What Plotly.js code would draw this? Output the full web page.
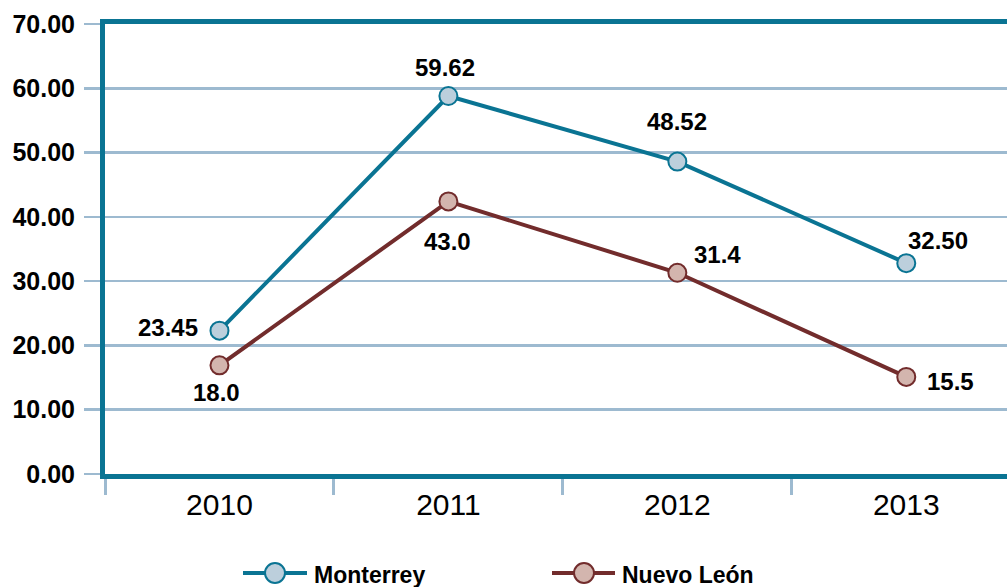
<!DOCTYPE html>
<html>
<head>
<meta charset="utf-8">
<script src="https://cdn.plot.ly/plotly-3.0.1.min.js"></script>
<style>html,body{margin:0;padding:0;background:#fff;}#chart{width:1007px;height:587px;}</style>
</head>
<body>
<div id="chart"></div>
<script>
var years = ['2010', '2011', '2012', '2013'];
var monterrey = [22.3, 58.8, 48.6, 32.8];
var nuevoLeon = [16.9, 42.4, 31.3, 15.1];
var monterreyLabels = ['23.45', '59.62', '48.52', '32.50'];
var nuevoLeonLabels = ['18.0', '43.0', '31.4', '15.5'];
var yTickVals = [0, 10, 20, 30, 40, 50, 60, 70];
var yTickText = ['0.00', '10.00', '20.00', '30.00', '40.00', '50.00', '60.00', '70.00'];
var seriesNames = ['Monterrey', 'Nuevo León'];

var teal = '#0a7493', tealFill = '#bccfdc';
var maroon = '#722c2c', maroonFill = '#d3b5ae';
var grid = '#9dbad0';
var FONT = 'Liberation Sans, Arial, sans-serif';

var W = 1007, H = 587, L = 105, R = 0, T = 24, B = 113;
function px2x(p) { return (p - L) / (W - L - R); }
function px2y(p) { return (H - B - p) / (H - B - T); }

function trace(name, y, line, fill) {
  return {
    type: 'scatter', mode: 'lines+markers', name: name,
    x: years, y: y, showlegend: false, cliponaxis: false,
    line: {color: line, width: 4},
    marker: {size: 18, color: fill, line: {color: line, width: 2}}
  };
}

var mOff = [[-51, 3], [-3, 29], [0, 40], [32, 23]];
var nOff = [[-3, -27], [-1, -40], [40, 18], [44, -5]];
var annotations = [];
function addLabels(vals, labels, offs) {
  for (var i = 0; i < vals.length; i++) {
    annotations.push({
      x: i, y: vals[i], xref: 'x', yref: 'y', text: labels[i],
      showarrow: false, xshift: offs[i][0], yshift: offs[i][1],
      xanchor: 'center', yanchor: 'middle',
      font: {family: FONT, size: 24, color: '#000', weight: 'bold'}
    });
  }
}
addLabels(monterrey, monterreyLabels, mOff);
addLabels(nuevoLeon, nuevoLeonLabels, nOff);

// custom legend
var legendItems = [
  {name: seriesNames[0], x0: 243, x1: 307, cx: 275, tx: 312, line: teal, fill: tealFill},
  {name: seriesNames[1], x0: 552, x1: 615, cx: 584, tx: 620, line: maroon, fill: maroonFill}
];
var legY = 573;
var shapes = [];
legendItems.forEach(function (it) {
  shapes.push({type: 'line', xref: 'paper', yref: 'paper', x0: px2x(it.x0), x1: px2x(it.x1),
    y0: px2y(legY), y1: px2y(legY), line: {color: it.line, width: 4}});
  shapes.push({type: 'circle', xref: 'paper', yref: 'paper', xsizemode: 'pixel', ysizemode: 'pixel',
    xanchor: px2x(it.cx), yanchor: px2y(legY), x0: -10, x1: 10, y0: -10, y1: 10,
    fillcolor: it.fill, line: {color: it.line, width: 2}});
  annotations.push({xref: 'paper', yref: 'paper', x: px2x(it.tx), y: px2y(legY + 2),
    xanchor: 'left', yanchor: 'middle', showarrow: false, text: it.name,
    font: {family: FONT, size: 23, color: '#000', weight: 'bold'}});
});

var layout = {
  width: W, height: H,
  margin: {l: L, r: R, t: T, b: B, pad: 0},
  paper_bgcolor: '#fff', plot_bgcolor: '#fff',
  showlegend: false,
  xaxis: {
    type: 'category', range: [-0.5, 3.44], fixedrange: true,
    showgrid: false, zeroline: false,
    showline: true, linecolor: teal, linewidth: 5, mirror: true,
    ticks: 'outside', tickson: 'boundaries', ticklen: 16, tickwidth: 3, tickcolor: grid,
    tickfont: {family: FONT, size: 30, color: '#000'}
  },
  yaxis: {
    range: [0, 70], fixedrange: true,
    tickvals: yTickVals, ticktext: yTickText,
    showgrid: true, gridcolor: grid, gridwidth: 2.5, zeroline: false,
    showline: true, linecolor: teal, linewidth: 5,
    ticks: 'outside', ticklen: 16, tickwidth: 2.5, tickcolor: grid,
    ticklabelstandoff: 4,
    tickfont: {family: FONT, size: 25, color: '#000', weight: 'bold'}
  },
  annotations: annotations,
  shapes: shapes
};

Plotly.newPlot('chart', [trace(seriesNames[0], monterrey, teal, tealFill), trace(seriesNames[1], nuevoLeon, maroon, maroonFill)], layout, {displayModeBar: false, staticPlot: true});
</script>
</body>
</html>
